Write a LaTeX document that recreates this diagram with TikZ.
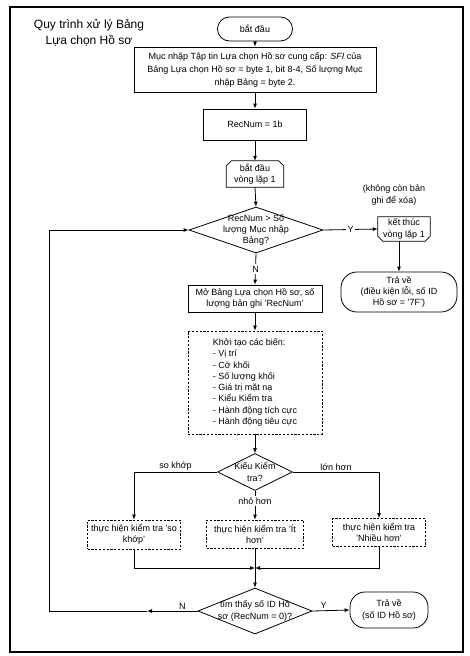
\documentclass[tikz,border=0pt]{standalone}
\usepackage{fontspec}
\setmainfont{Liberation Sans}
\usetikzlibrary{shapes.geometric,arrows.meta,calc}
\begin{document}
\begin{tikzpicture}[x=1pt,y=-1pt,
  every node/.style={font=\fontsize{9}{11.3}\selectfont, align=center, inner sep=1pt},
  proc/.style={draw, line width=.8pt, inner sep=0pt},
  dproc/.style={proc, dash pattern=on 2.2pt off 1.6pt},
  dia/.style={draw, diamond, line width=.8pt, inner sep=0pt},
  arr/.style={line width=.8pt, -{Latex[length=5pt,width=4pt]}},
  ln/.style={line width=.8pt},
  lbl/.style={inner sep=1.5pt}]
\useasboundingbox (0,0) rectangle (469,656);
\draw[line width=1.3pt] (10,7) rectangle (463,652);

\node[font=\fontsize{12}{16}\selectfont] (title) at (89,33) {Quy trình xử lý Bảng\\Lựa chọn Hồ sơ};

\node[proc, rounded corners=12pt, minimum width=75pt, minimum height=24pt] (start) at (255,29) {bắt đầu};
\node[proc, minimum width=242pt, minimum height=45pt, font=\fontsize{9}{13}\selectfont] (box1) at (255,69.5)
  {Mục nhập Tập tin Lựa chọn Hồ sơ cung cấp: \textit{SFI} của\\Bảng Lựa chọn Hồ sơ = byte 1, bit 8-4, Số lượng Mục\\nhập Bảng = byte 2.};
\node[proc, minimum width=103pt, minimum height=31pt] (rec) at (255,124.5) {RecNum = 1b};
\node[inner sep=0pt, minimum width=57pt, minimum height=26pt] (ls) at (255,174) {bắt đầu\\vòng lặp 1};
\draw[ln] ($(ls.north west)+(0,5)$) -- ($(ls.north west)+(5,0)$) -- ($(ls.north east)+(-5,0)$) -- ($(ls.north east)+(0,5)$) -- (ls.south east) -- (ls.south west) -- cycle;

\node[dia, minimum width=134pt, minimum height=46pt,
  label={[align=center, inner sep=0pt]center:{RecNum > Số\\lượng Mục nhập\\Bảng?}}] (d1) at (256,230) {};

\node (note) at (394,195) {(không còn bản\\ghi để xóa)};
\node[inner sep=0pt, minimum width=52pt, minimum height=24pt] (le) at (404,229) {kết thúc\\vòng lặp 1};
\draw[ln] (le.north west) -- (le.north east) -- ($(le.south east)+(0,-5)$) -- ($(le.south east)+(-5,0)$) -- ($(le.south west)+(5,0)$) -- ($(le.south west)+(0,-5)$) -- cycle;
\node[proc, rounded corners=16pt, minimum width=116pt, minimum height=40pt] (r1) at (399,292)
  {Trả về\\(điều kiện lỗi, số ID\\Hồ sơ = '7F')};

\node[proc, minimum width=134pt, minimum height=27pt] (open) at (255,298.5)
  {Mở Bảng Lựa chọn Hồ sơ, số\\lượng bản ghi 'RecNum'};
\node[dproc, minimum width=134pt, minimum height=103pt, align=left] (init) at (255,382.5)
  {Khởi tạo các biến:\\- Vị trí\\- Cờ khối\\- Số lượng khối\\- Giá trị mặt nạ\\- Kiểu Kiểm tra\\- Hành động tích cực\\- Hành động tiêu cực};

\node[dia, minimum width=75pt, minimum height=37pt,
  label={[align=center, inner sep=0pt]center:{Kiểu Kiểm\\tra?}}] (d2) at (255,472) {};

\node[dproc, minimum width=93pt, minimum height=29pt] (bL) at (134,534.5) {thực hiện kiểm tra 'so\\khớp'};
\node[dproc, minimum width=97pt, minimum height=28pt] (bM) at (255,534) {thực hiện kiểm tra 'Ít\\hơn'};
\node[dproc, minimum width=93pt, minimum height=28pt] (bR) at (379,532.5) {thực hiện kiểm tra\\'Nhiều hơn'};

\coordinate (mj) at (255,568);
\node[dia, minimum width=114pt, minimum height=46pt,
  label={[align=center, inner sep=0pt]center:{tìm thấy số ID Hồ\\sơ (RecNum = 0)?}}] (d3) at (255,611) {};
\node[proc, rounded corners=15pt, minimum width=78pt, minimum height=36pt] (r2) at (389,610) {Trả về\\(số ID Hồ sơ)};

\coordinate (nmid) at (147,611);
\coordinate (nl) at (49,611);

% connectors
\draw[arr] (start.south) -- (box1.north);
\draw[arr] (box1.south) -- (rec.north);
\draw[arr] (rec.south) -- (ls.north);
\draw[arr] (ls.south) -- (d1.north);
\draw[arr] (d1.east) -- node[lbl, fill=white]{Y} (le.west);
\draw[arr] (r1.north |- le.south) -- (r1.north);
\draw[arr] (d1.south) -- node[lbl, fill=white]{N} (open.north);
\draw[arr] (open.south) -- (init.north);
\draw[arr] (init.south) -- (d2.north);
\draw[arr] (d2.west) -| node[pos=.25, above, lbl]{so khớp} (bL.north);
\draw[arr] (d2.east) -| node[pos=.25, above, lbl]{lớn hơn} (bR.north);
\draw[arr] (d2.south) -- node[pos=.35, lbl, fill=white]{nhỏ hơn} (bM.north);
\draw[arr] (bL.south) |- (mj);
\draw[arr] (bR.south) |- (mj);
\draw[arr] (bM.south) -- (d3.north);
\draw[arr] (d3.west) -- node[pos=.3, above, lbl]{N} (nmid);
\draw[arr] (nmid) -- (nl) |- (d1.west);
\draw[arr] (d3.east) -- node[pos=.3, above, lbl]{Y} (r2.west);
\end{tikzpicture}
\end{document}
